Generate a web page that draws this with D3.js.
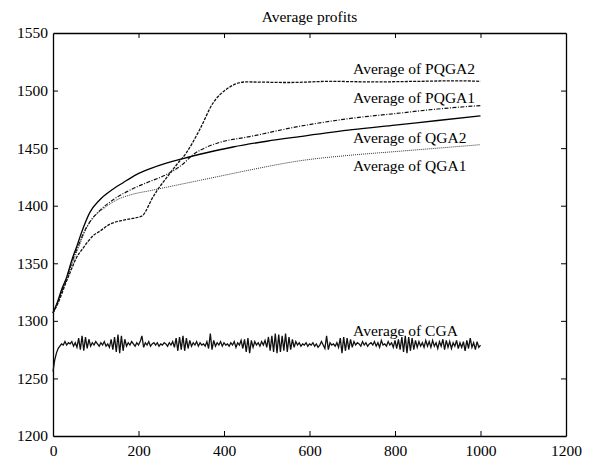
<!DOCTYPE html>
<html>
<head>
<meta charset="utf-8">
<script src="https://cdn.jsdelivr.net/npm/d3@7/dist/d3.min.js"></script>
<style>
  body { margin: 0; background: #fff; }
  svg { display: block; font-family: "Liberation Serif", "Times New Roman", serif; }
</style>
</head>
<body>
<div id="chart"></div>
<script>
const width = 590, height = 464;
const margin = { top: 33, right: 24, bottom: 28, left: 53 };

const xTicks = [0, 200, 400, 600, 800, 1000, 1200];
const yTicks = [1200, 1250, 1300, 1350, 1400, 1450, 1500, 1550];

// QGA2 (solid)
const qga2Gen = [0, 10, 20, 32, 46, 55, 67, 86, 109, 135, 164, 195, 226, 265, 304, 359, 421, 500, 577, 700, 800, 900, 1000];
const qga2Val = [1307, 1316, 1327, 1338, 1355, 1364, 1377, 1394, 1405, 1413, 1420, 1427, 1432, 1437, 1441, 1446, 1451, 1456, 1460, 1466, 1470, 1474, 1478];

// QGA1 (dotted)
const qga1Gen = [0, 10, 20, 32, 46, 60, 75, 93, 120, 149, 187, 226, 265, 304, 343, 382, 460, 577, 700, 800, 900, 1000];
const qga1Val = [1307, 1315, 1325, 1336, 1351, 1364, 1378, 1389, 1398, 1405, 1410, 1413, 1416, 1419, 1422, 1425, 1431, 1439, 1444, 1447, 1450, 1453];

// PQGA1 (dash-dot)
const pqga1Gen = [0, 10, 20, 30, 45, 60, 75, 90, 110, 140, 172, 200, 226, 265, 300, 330, 360, 390, 460, 577, 700, 800, 900, 1000];
const pqga1Val = [1307, 1315, 1325, 1335, 1352, 1366, 1379, 1388, 1396, 1405, 1412, 1417, 1421, 1427, 1435, 1445, 1451, 1455, 1460, 1469, 1476, 1480, 1484, 1487];

// PQGA2 (dashed)
const pqga2Gen = [0, 10, 20, 30, 40, 55, 70, 94, 110, 133, 160, 187, 200, 210, 218, 230, 245, 265, 290, 312, 343, 374, 405, 429, 450, 550, 650, 750, 850, 950, 1000];
const pqga2Val = [1307, 1314, 1323, 1333, 1342, 1355, 1363, 1374, 1378, 1384, 1387, 1389, 1390, 1391.5, 1396, 1405, 1414, 1424, 1436, 1446, 1466, 1489, 1501, 1506, 1507.5, 1507, 1508, 1507.5, 1508, 1508.5, 1508];

// CGA (noisy), every 4 generations
const cgaStep = 4;
const cgaVal = [
  1256, 1266, 1272, 1276, 1278, 1280, 1279, 1282, 1279, 1281,
  1280, 1282, 1278, 1281, 1277, 1285, 1275, 1287, 1274, 1286,
  1276, 1284, 1278, 1281, 1279, 1282, 1280, 1278, 1281, 1279,
  1282, 1278, 1280, 1277, 1284, 1275, 1286, 1273, 1288, 1272,
  1287, 1274, 1284, 1278, 1281, 1279, 1282, 1280, 1278, 1281,
  1279, 1282, 1287, 1277, 1281, 1279, 1282, 1278, 1280, 1281,
  1279, 1281, 1278, 1280, 1279, 1281, 1280, 1278, 1281, 1279,
  1282, 1277, 1285, 1274, 1286, 1275, 1287, 1274, 1285, 1276,
  1283, 1278, 1281, 1279, 1282, 1278, 1281, 1279, 1280, 1278,
  1282, 1276, 1289, 1275, 1283, 1278, 1281, 1279, 1282, 1278,
  1281, 1279, 1280, 1278, 1281, 1279, 1282, 1277, 1281, 1279,
  1283, 1276, 1284, 1273, 1285, 1272, 1283, 1277, 1282, 1279,
  1281, 1278, 1282, 1279, 1283, 1277, 1286, 1274, 1287, 1273,
  1289, 1272, 1288, 1273, 1287, 1274, 1289, 1273, 1286, 1275,
  1284, 1277, 1282, 1279, 1281, 1278, 1280, 1279, 1281, 1278,
  1280, 1279, 1281, 1278, 1280, 1277, 1279, 1282, 1279, 1276,
  1287, 1275, 1281, 1279, 1280, 1278, 1281, 1277, 1285, 1272,
  1286, 1274, 1285, 1275, 1284, 1277, 1282, 1279, 1281, 1280,
  1278, 1282, 1279, 1281, 1278, 1280, 1281, 1279, 1282, 1278,
  1281, 1277, 1283, 1279, 1280, 1278, 1282, 1279, 1281, 1277,
  1283, 1276, 1284, 1275, 1286, 1273, 1287, 1272, 1286, 1274,
  1285, 1275, 1283, 1277, 1282, 1278, 1281, 1277, 1283, 1278,
  1282, 1277, 1283, 1278, 1281, 1276, 1282, 1278, 1284, 1275,
  1283, 1277, 1282, 1276, 1281, 1278, 1283, 1276, 1281, 1277,
  1282, 1274, 1283, 1276, 1285, 1277, 1281, 1275, 1282, 1277,
  1279
];

const labels = ["Average of PQGA2", "Average of PQGA1", "Average of QGA2", "Average of QGA1", "Average of CGA"];
const labelGen = [702, 702, 702, 702, 702];
const labelVal = [1514.4, 1489.2, 1454.5, 1430.2, 1286.8];

const svg = d3.select("#chart").append("svg")
  .attr("width", width)
  .attr("height", height);

svg.append("rect").attr("width", width).attr("height", height).attr("fill", "#fff");

const innerW = width - margin.left - margin.right;
const innerH = height - margin.top - margin.bottom;

const x = d3.scaleLinear().domain([0, 1200]).range([0, innerW]);
const y = d3.scaleLinear().domain([1200, 1550]).range([innerH, 0]);

const g = svg.append("g").attr("transform", `translate(${margin.left},${margin.top})`);

// axes with inward ticks, matlab style
const tickLen = 5;
g.append("g")
  .attr("transform", `translate(0,${innerH})`)
  .call(d3.axisBottom(x).tickValues(xTicks).tickSizeInner(-tickLen).tickSizeOuter(0).tickPadding(9).tickFormat(d3.format("d")));
g.append("g")
  .call(d3.axisTop(x).tickValues(xTicks).tickSizeInner(-tickLen).tickSizeOuter(0).tickFormat(""));
g.append("g")
  .call(d3.axisLeft(y).tickValues(yTicks).tickSizeInner(-tickLen).tickSizeOuter(0).tickPadding(5).tickFormat(d3.format("d")));
g.append("g")
  .attr("transform", `translate(${innerW},0)`)
  .call(d3.axisRight(y).tickValues(yTicks).tickSizeInner(-tickLen).tickSizeOuter(0).tickFormat(""));

g.selectAll(".domain").attr("stroke", "#000").attr("stroke-width", 1.3);
g.selectAll(".tick line").attr("stroke", "#000").attr("stroke-width", 1);
g.selectAll(".tick text")
  .attr("fill", "#000")
  .style("font-size", "15.5px")
  .style("font-family", "'Liberation Serif', 'Times New Roman', serif");

// hide ticks at the box corners
g.selectAll(".tick").filter(d => d === 0 || d === 1200 || d === 1550).select("line").remove();

const smooth = (gens, vals) => d3.line()
  .x((d, i) => x(gens[i]))
  .y(d => y(d))
  .curve(d3.curveMonotoneX)(vals);

g.append("path").attr("d", smooth(qga1Gen, qga1Val))
  .attr("fill", "none").attr("stroke", "#333").attr("stroke-width", 1.0)
  .attr("stroke-dasharray", "1,1");

g.append("path").attr("d", smooth(qga2Gen, qga2Val))
  .attr("fill", "none").attr("stroke", "#000").attr("stroke-width", 1.3);

g.append("path").attr("d", smooth(pqga1Gen, pqga1Val))
  .attr("fill", "none").attr("stroke", "#111").attr("stroke-width", 1.2)
  .attr("stroke-dasharray", "4,1.5,1,1.5");

g.append("path").attr("d", smooth(pqga2Gen, pqga2Val))
  .attr("fill", "none").attr("stroke", "#111").attr("stroke-width", 1.3)
  .attr("stroke-dasharray", "3,1.2");

const cgaLine = d3.line()
  .x((d, i) => x(i * cgaStep))
  .y(d => y(d));

g.append("path").datum(cgaVal).attr("d", cgaLine)
  .attr("fill", "none").attr("stroke", "#111").attr("stroke-width", 1.3);

// labels
g.selectAll(".series-label")
  .data(labels)
  .enter().append("text")
  .attr("class", "series-label")
  .attr("x", (d, i) => x(labelGen[i]))
  .attr("y", (d, i) => y(labelVal[i]))
  .attr("fill", "#000")
  .style("font-size", "15.5px")
  .text(d => d);

// title
svg.append("text")
  .attr("x", margin.left + innerW / 2)
  .attr("y", 22)
  .attr("text-anchor", "middle")
  .attr("fill", "#000")
  .style("font-size", "15.5px")
  .text("Average profits");
</script>
</body>
</html>
